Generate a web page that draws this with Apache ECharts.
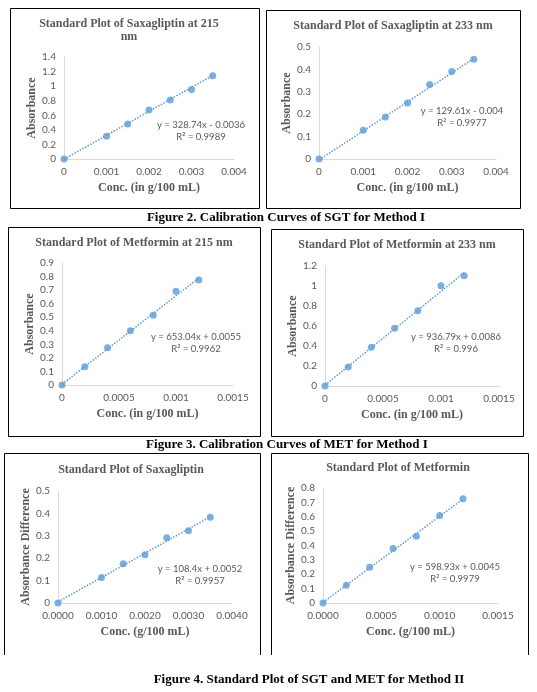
<!DOCTYPE html>
<html>
<head>
<meta charset="utf-8">
<script src="https://cdn.jsdelivr.net/npm/echarts@6/dist/echarts.min.js"></script>
<style>
html, body { margin: 0; padding: 0; background: #fff; }
#main { width: 537px; height: 692px; }
</style>
</head>
<body>
<div id="main"></div>
<script>
// concentrations
var sgtConc = [0, 0.001, 0.0015, 0.002, 0.0025, 0.003, 0.0035];
var metConc = [0, 0.0002, 0.0004, 0.0006, 0.0008, 0.001, 0.0012];

// absorbances
var sgt215 = [0, 0.313, 0.479, 0.672, 0.811, 0.953, 1.142];
var sgt233 = [0, 0.128, 0.188, 0.25, 0.333, 0.391, 0.445];
var met215 = [0, 0.135, 0.275, 0.4, 0.515, 0.692, 0.775];
var met233 = [0, 0.19, 0.388, 0.578, 0.752, 1.003, 1.103];
var sgtDiff = [0, 0.114, 0.175, 0.215, 0.291, 0.323, 0.383];
var metDiff = [0, 0.123, 0.248, 0.38, 0.464, 0.608, 0.726];

// trendline end values (at first and last concentration)
var trendSgt215 = [-0.0036, 1.147];
var trendSgt233 = [-0.004, 0.449];
var trendMet215 = [0.0055, 0.789];
var trendMet233 = [0.0086, 1.133];
var trendSgtDiff = [0.0052, 0.385];
var trendMetDiff = [0.0045, 0.723];

var titles = [
	'Standard Plot of Saxagliptin at 215\nnm',
	'Standard Plot of Saxagliptin at 233 nm',
	'Standard Plot of Metformin at 215 nm',
	'Standard Plot of Metformin at 233 nm',
	'Standard Plot of Saxagliptin',
	'Standard Plot of Metformin'
];
var equations = [
	'y = 328.74x - 0.0036',
	'y = 129.61x - 0.004',
	'y = 653.04x + 0.0055',
	'y = 936.79x + 0.0086',
	'y = 108.4x + 0.0052',
	'y = 598.93x + 0.0045'
];
var rSquared = ['R² = 0.9989', 'R² = 0.9977', 'R² = 0.9962', 'R² = 0.996', 'R² = 0.9957', 'R² = 0.9979'];
var xNames = ['Conc. (in g/100 mL)', 'Conc. (in g/100 mL)', 'Conc. (in g/100 mL)', 'Conc. (in g/100 mL)', 'Conc. (g/100 mL)', 'Conc. (g/100 mL)'];
var yNames = ['Absorbance', 'Absorbance', 'Absorbance', 'Absorbance', 'Absorbance Difference', 'Absorbance Difference'];
var captions = [
	'Figure 2. Calibration Curves of SGT for Method I',
	'Figure 3. Calibration Curves of MET for Method I',
	'Figure 4. Standard Plot of SGT and MET for Method II'
];

// panel layout
var panels = [
	{ conc: sgtConc, abs: sgt215, trend: trendSgt215, grid: [64, 57, 170, 102], x: [0, 0.004, 0.001], y: [0, 1.4, 0.2], dec: 0, title: [129, 17], eq: [201, 125], box: [10, 8, 249, 200] },
	{ conc: sgtConc, abs: sgt233, trend: trendSgt233, grid: [319, 47, 177, 112], x: [0, 0.004, 0.001], y: [0, 0.5, 0.1], dec: 0, title: [393, 19], eq: [462, 111], box: [266, 10, 254, 198] },
	{ conc: metConc, abs: met215, trend: trendMet215, grid: [62, 263, 171, 122], x: [0, 0.0015, 0.0005], y: [0, 0.9, 0.1], dec: 0, title: [134, 236], eq: [196, 337], box: [8, 227, 252, 209] },
	{ conc: metConc, abs: met233, trend: trendMet233, grid: [325, 266, 174, 120], x: [0, 0.0015, 0.0005], y: [0, 1.2, 0.2], dec: 0, title: [397, 238], eq: [456, 337], box: [271, 229, 252, 207] },
	{ conc: sgtConc, abs: sgtDiff, trend: trendSgtDiff, grid: [58, 491, 174, 112], x: [0, 0.004, 0.001], y: [0, 0.5, 0.1], dec: 4, title: [131, 463], eq: [200, 569], box: [4, 453, 256, 202], open: true },
	{ conc: metConc, abs: metDiff, trend: trendMetDiff, grid: [323, 488, 175, 115], x: [0, 0.0015, 0.0005], y: [0, 0.8, 0.1], dec: 4, title: [398, 461], eq: [455, 567], box: [271, 453, 257, 202], open: true }
];

var blue = '#5B9BD5';
var grey = '#595959';
var serif = '"Liberation Serif", "Times New Roman", serif';
var sans = 'Lato, "Open Sans", sans-serif';

var chart = echarts.init(document.getElementById('main'));

var grids = [], xAxes = [], yAxes = [], series = [], titleList = [], graphics = [];

panels.forEach(function (p, i) {
	grids.push({ left: p.grid[0], top: p.grid[1], width: p.grid[2], height: p.grid[3] });

	xAxes.push({
		type: 'value', gridIndex: i, min: p.x[0], max: p.x[1], interval: p.x[2],
		name: xNames[i], nameLocation: 'middle', nameGap: 23,
		nameTextStyle: { fontFamily: serif, fontWeight: 'bold', fontSize: 12, color: grey },
		axisLine: { onZero: false, lineStyle: { color: '#D9D9D9' } },
		axisTick: { show: false },
		splitLine: { show: false },
		axisLabel: {
			margin: 8, fontFamily: sans, fontSize: 10, color: grey,
			formatter: (function (dec) {
				return function (v) { return dec ? v.toFixed(dec) : String(+v.toFixed(5)); };
			})(p.dec)
		}
	});

	yAxes.push({
		type: 'value', gridIndex: i, min: p.y[0], max: p.y[1], interval: p.y[2],
		name: yNames[i], nameLocation: 'middle', nameGap: 25, nameRotate: 90,
		nameTextStyle: { fontFamily: serif, fontWeight: 'bold', fontSize: 12, color: grey },
		axisLine: { show: true, lineStyle: { color: '#D9D9D9' } },
		axisTick: { show: false },
		splitLine: { show: false },
		axisLabel: {
			margin: 8, fontFamily: sans, fontSize: 10, color: grey,
			formatter: function (v) { return String(+v.toFixed(2)); }
		}
	});

	series.push({
		type: 'line', xAxisIndex: i, yAxisIndex: i,
		data: [[p.conc[0], p.trend[0]], [p.conc[p.conc.length - 1], p.trend[1]]],
		symbol: 'none', silent: true,
		lineStyle: { color: blue, width: 1.5, type: 'dotted' },
		z: 1
	});
	series.push({
		type: 'scatter', xAxisIndex: i, yAxisIndex: i,
		data: p.conc.map(function (c, k) { return [c, p.abs[k]]; }),
		symbolSize: 7,
		itemStyle: { color: blue },
		z: 2
	});

	titleList.push({
		text: titles[i], left: p.title[0], top: p.title[1], textAlign: 'center', padding: 0,
		textStyle: { fontFamily: serif, fontWeight: 'bold', fontSize: 12, color: grey, lineHeight: 13 }
	});

	graphics.push({
		type: 'text', x: p.eq[0], y: p.eq[1],
		style: { text: equations[i], fontFamily: sans, fontSize: 9.5, fill: grey, align: 'center', verticalAlign: 'middle' }
	});
	graphics.push({
		type: 'text', x: p.eq[0], y: p.eq[1] + 12,
		style: { text: rSquared[i], fontFamily: sans, fontSize: 9.5, fill: grey, align: 'center', verticalAlign: 'middle' }
	});

	var b = p.box;
	if (p.open) {
		graphics.push({
			type: 'polyline', silent: true,
			shape: { points: [[b[0] + 0.5, b[1] + b[3]], [b[0] + 0.5, b[1] + 0.5], [b[0] + b[2] + 0.5, b[1] + 0.5], [b[0] + b[2] + 0.5, b[1] + b[3]]] },
			style: { stroke: '#000', lineWidth: 1, fill: null }
		});
	} else {
		graphics.push({
			type: 'rect', silent: true,
			shape: { x: b[0] + 0.5, y: b[1] + 0.5, width: b[2], height: b[3] },
			style: { stroke: '#000', lineWidth: 1, fill: null }
		});
	}
});

var capPos = [[286, 218], [287, 445], [309, 680]];
captions.forEach(function (c, i) {
	graphics.push({
		type: 'text', x: capPos[i][0], y: capPos[i][1],
		style: { text: c, fontFamily: serif, fontWeight: 'bold', fontSize: 13, fill: '#000', align: 'center', verticalAlign: 'middle' }
	});
});

chart.setOption({
	backgroundColor: '#fff',
	animation: false,
	title: titleList,
	grid: grids,
	xAxis: xAxes,
	yAxis: yAxes,
	series: series,
	graphic: graphics
});
</script>
</body>
</html>
